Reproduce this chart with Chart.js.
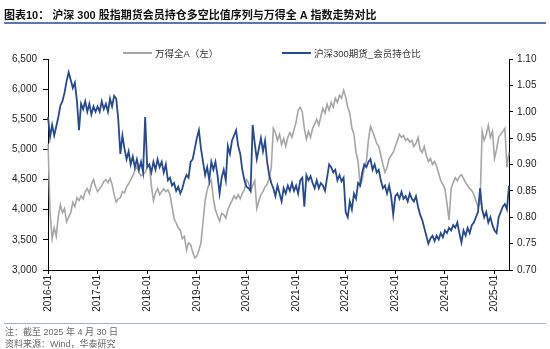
<!DOCTYPE html>
<html>
<head>
<meta charset="utf-8">
<script src="https://cdn.jsdelivr.net/npm/chart.js@4.4.1/dist/chart.umd.min.js"></script>
<style>
  body { margin: 0; width: 550px; height: 349px; background: #fff; position: relative; overflow: hidden;
         font-family: "Liberation Sans", Arial, "Noto Sans CJK SC", sans-serif; }
  #wrap { position: absolute; left: 0; top: 0; width: 550px; height: 349px; }
  .title { position: absolute; left: 4px; top: 6px; font-size: 11px; font-weight: bold; color: #111;
           white-space: nowrap; font-family: "Liberation Sans", "Noto Sans CJK SC", sans-serif; }
  .rule { position: absolute; left: 4px; width: 542px; }
  .legend { position: absolute; top: 46px; font-size: 9.5px; color: #333; white-space: nowrap;
            font-family: "Liberation Sans", "Noto Sans CJK SC", sans-serif; }
  .legend span.line { display: inline-block; width: 29px; height: 2px; vertical-align: middle; margin-right: 3px; position: relative; top: -1px; }
  .note { position: absolute; left: 5px; font-size: 9px; line-height: 11px; color: #666; white-space: nowrap;
          font-family: "Liberation Sans", "Noto Sans CJK SC", sans-serif; }
</style>
</head>
<body>
<div id="wrap"><canvas id="chart"></canvas></div>
<div class="title">图表10： 沪深 300 股指期货会员持仓多空比值序列与万得全 A 指数走势对比</div>
<div class="rule" style="top:22px;height:2px;background:#5a79a6;"></div>
<div class="legend" style="left:123px;"><span class="line" style="background:#a6a6a6;"></span>万得全A（左）</div>
<div class="legend" style="left:282px;"><span class="line" style="background:#27498f;"></span>沪深300期货_会员持仓比</div>
<div class="rule" style="top:323px;height:1px;background:#9fb3cf;"></div>
<div class="note" style="top:327px;">注：截至 2025 年 4 月 30 日</div>
<div class="note" style="top:339px;">资料来源：Wind，华泰研究</div>
<script>
// year ticks shown on the x axis
const tickLabels = ["2016-01", "2017-01", "2018-01", "2019-01", "2020-01",
  "2021-01", "2022-01", "2023-01", "2024-01", "2025-01"]

// half-month sample dates, 2016-01 .. 2025-04
const dates = []
for (let y = 2016; y <= 2025; y++) {
  for (let m = 1; m <= 12; m++) {
    if (y === 2025 && m > 4) break
    const mm = String(m).padStart(2, "0")
    dates.push(`${y}-${mm}-01`, `${y}-${mm}-16`)
  }
}

// 万得全A (left axis)
const windA = [
  5100, 3950, 3520, 3700, 3560, 3900, 4080, 3950, 4020, 3800, 3880, 3950, 4120, 4050, 4200, 4150, 4230, 4180, 4300, 4350, 4270, 4420, 4500, 4380,
  4300, 4350, 4400, 4470, 4500, 4450, 4520, 4420, 4250, 4130, 4180, 4200, 4300, 4280, 4380, 4430, 4500, 4560, 4650, 4720, 4620, 4560, 4580, 4620,
  4700, 4750, 4400, 4150, 4280, 4350, 4250, 4300, 4350, 4300, 4330, 4250, 4050, 3850, 3780, 3700, 3660, 3520, 3560, 3330, 3450, 3420, 3300, 3200,
  3230, 3330, 3450, 3800, 4150, 4330, 4440, 4490, 4180, 4000, 3900, 3810, 3940, 3920, 3860, 4000, 4080, 4150, 4230, 4180, 4250, 4180, 4270, 4330,
  4500, 4450, 4300, 4400, 4480, 4020, 4150, 4250, 4300, 4380, 4420, 4520, 4700, 5350, 5280, 5150, 5250, 5080, 5180, 5050, 5200, 5280, 5200, 5330,
  5450, 5650, 5700, 5620, 5350, 5170, 5300, 5200, 5350, 5420, 5500, 5400, 5550, 5680, 5600, 5750, 5650, 5780, 5700, 5850, 5780, 5900, 5850, 5980,
  5870, 5700, 5600, 5350, 5250, 4950, 4800, 4400, 4500, 4700, 4800, 5150, 5380, 5300, 5200, 5100, 5050, 4900, 4750, 4620, 4700, 4850, 4900, 4950,
  5050, 5150, 5250, 5200, 5230, 5150, 5180, 5120, 5150, 5050, 5100, 5200, 5000, 4950, 5050, 4900, 4800, 4850, 4750, 4800, 4720, 4600, 4480, 4420,
  4350, 4100, 3830, 4350, 4450, 4530, 4480, 4550, 4580, 4520, 4450, 4400, 4350, 4320, 4250, 4150, 4050, 4100, 5300, 5150, 5250, 5400, 5200, 5300,
  4850, 5000, 5200, 5250, 5300, 5350, 4700, 4950,
]

// 沪深300期货_会员持仓比 (right axis)
const holdRatio = [
  0.99, 0.952, 0.975, 0.955, 0.972, 0.99, 1.012, 1.02, 1.036, 1.058, 1.075, 1.06, 1.045, 1.055, 1.02, 0.965, 1.015, 1.005, 1.02, 1.0, 1.015, 0.995, 1.01, 1.0,
  1.01, 1.0, 1.02, 1.005, 1.015, 1.0, 1.025, 1.01, 1.03, 1.025, 0.985, 0.92, 0.955, 0.93, 0.91, 0.925, 0.9, 0.915, 0.895, 0.91, 0.89, 0.905, 0.885, 0.99,
  0.895, 0.9, 0.885, 0.905, 0.89, 0.91, 0.895, 0.905, 0.885, 0.9, 0.87, 0.875, 0.86, 0.865, 0.85, 0.858, 0.845, 0.855, 0.87, 0.88, 0.875, 0.905, 0.91, 0.93,
  0.95, 0.965, 0.93, 0.905, 0.88, 0.895, 0.87, 0.905, 0.89, 0.905, 0.88, 0.845, 0.875, 0.89, 0.87, 0.935, 0.92, 0.945, 0.955, 0.965, 0.935, 0.92, 0.89, 0.87,
  0.858, 0.855, 0.85, 0.975, 0.94, 0.91, 0.93, 0.95, 0.925, 0.945, 0.905, 0.88, 0.865, 0.855, 0.84, 0.86, 0.845, 0.83, 0.855, 0.845, 0.86, 0.85, 0.865, 0.85,
  0.86, 0.845, 0.87, 0.875, 0.82, 0.88, 0.87, 0.878, 0.865, 0.855, 0.87, 0.855, 0.865, 0.86, 0.85, 0.875, 0.9, 0.895, 0.885, 0.89, 0.87, 0.88, 0.868, 0.875,
  0.81, 0.8, 0.83, 0.815, 0.845, 0.835, 0.865, 0.86, 0.885, 0.9, 0.895, 0.905, 0.91, 0.89, 0.9, 0.885, 0.89, 0.87, 0.855, 0.86, 0.845, 0.86, 0.84, 0.805,
  0.84, 0.845, 0.835, 0.848, 0.835, 0.84, 0.83, 0.845, 0.835, 0.83, 0.84, 0.82, 0.805, 0.795, 0.78, 0.765, 0.75, 0.76, 0.765, 0.755, 0.765, 0.758, 0.77, 0.762,
  0.775, 0.77, 0.78, 0.775, 0.785, 0.78, 0.79, 0.77, 0.752, 0.775, 0.765, 0.78, 0.77, 0.785, 0.79, 0.8, 0.81, 0.855, 0.815, 0.8, 0.81, 0.79, 0.8, 0.785,
  0.775, 0.77, 0.8, 0.81, 0.82, 0.825, 0.815, 0.86,
]

const tickFont = { family: "'Liberation Sans', Arial, sans-serif", size: 10 }
const axisColor = "#000"

new Chart(document.getElementById("chart"), {
  type: "line",
  data: {
    labels: dates,
    datasets: [
      {
        label: "万得全A（左）",
        data: windA,
        yAxisID: "y",
        borderColor: "#a6a6a6",
        borderWidth: 1.6,
        pointRadius: 0,
        tension: 0,
        order: 2,
      },
      {
        label: "沪深300期货_会员持仓比",
        data: holdRatio,
        yAxisID: "y1",
        borderColor: "#27498f",
        borderWidth: 1.8,
        pointRadius: 0,
        tension: 0,
        order: 1,
      },
    ],
  },
  options: {
    responsive: true,
    maintainAspectRatio: false,
    animation: false,
    layout: { padding: { top: 59, bottom: 34, left: 0, right: 0 } },
    plugins: { legend: { display: false }, tooltip: { enabled: false } },
    scales: {
      x: {
        offset: false,
        afterBuildTicks: scale => {
          scale.ticks = tickLabels.map(t => ({ value: dates.indexOf(t + "-01") }))
        },
        afterFit: scale => { scale.height = 45 },
        ticks: {
          autoSkip: false,
          minRotation: 90,
          maxRotation: 90,
          padding: 1,
          font: tickFont,
          color: "#222",
          callback: v => dates[v].slice(0, 7),
        },
        grid: { drawOnChartArea: false, drawTicks: true, tickLength: 4, color: axisColor },
        border: { color: axisColor, width: 1 },
      },
      y: {
        position: "left",
        min: 3000,
        max: 6500,
        afterFit: scale => { scale.width = 48 },
        ticks: {
          stepSize: 500,
          padding: 6,
          font: tickFont,
          color: "#222",
          callback: v => v.toLocaleString("en-US"),
        },
        grid: { drawOnChartArea: false, tickLength: 5, color: axisColor },
        border: { color: axisColor, width: 1 },
      },
      y1: {
        position: "right",
        min: 0.7,
        max: 1.1,
        afterFit: scale => { scale.width = 41 },
        ticks: {
          stepSize: 0.05,
          padding: 4,
          font: tickFont,
          color: "#222",
          callback: v => v.toFixed(2),
        },
        grid: { drawOnChartArea: false, tickLength: 4, color: axisColor },
        border: { color: axisColor, width: 1 },
      },
    },
  },
})
</script>
</body>
</html>
